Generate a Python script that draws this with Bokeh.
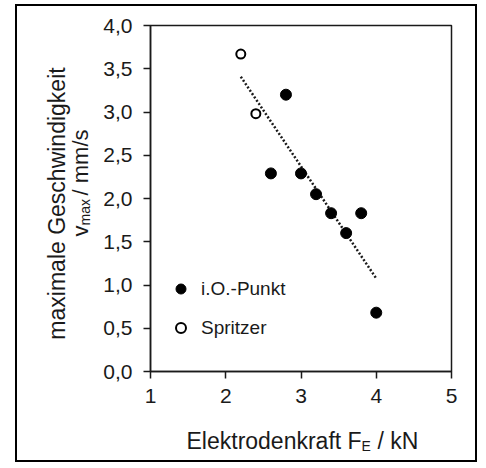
import numpy as np
from bokeh.plotting import figure
from bokeh.models import (Label, Legend, LegendItem, FixedTicker, CustomJSTickFormatter,
                          Range1d)
from bokeh.embed import file_html
from bokeh.resources import INLINE

# ---- data ----
x_io = [2.6, 2.8, 3.0, 3.2, 3.4, 3.6, 3.8, 4.0]
y_io = [2.29, 3.20, 2.29, 2.05, 1.83, 1.60, 1.83, 0.68]
x_spr = [2.2, 2.4]
y_spr = [3.67, 2.98]
x_ticks = [1, 2, 3, 4, 5]
y_ticks = [0.0, 0.5, 1.0, 1.5, 2.0, 2.5, 3.0, 3.5, 4.0]
legend_labels = ["i.O.-Punkt", "Spritzer"]

# regression line over all points
x_all = np.array(x_io + x_spr)
y_all = np.array(y_io + y_spr)
slope, icpt = np.polyfit(x_all, y_all, 1)
x_fit = [x_all.min(), x_all.max()]
y_fit = [slope * v + icpt for v in x_fit]

FONT = "Liberation Sans"
INK = "#1a1a1a"
OX, OY = 17, 6          # canvas origin on the page (inside the 2px frame)
W, H = 462, 458         # canvas size

p = figure(width=W, height=H, x_range=Range1d(1, 5), y_range=Range1d(0, 4),
           output_backend="svg", toolbar_location=None, margin=(4, 0, 0, 15),
           styles={"border": "2px solid black"},
           min_border_left=150 - OX, min_border_right=OX + W - 451,
           min_border_top=25 - OY, min_border_bottom=OY + H - 371)
p.background_fill_color = "white"
p.border_fill_color = "white"
p.xgrid.visible = False
p.ygrid.visible = False
p.outline_line_color = INK
p.outline_line_width = 1.5

for ax in (p.xaxis[0], p.yaxis[0]):
    ax.axis_line_color = INK
    ax.axis_line_width = 1.5
    ax.major_tick_line_color = INK
    ax.major_tick_line_width = 1.5
    ax.major_tick_out = 7
    ax.major_tick_in = 0
    ax.minor_tick_line_color = None
    ax.major_label_text_font = FONT
    ax.major_label_text_font_size = "21px"
    ax.major_label_text_color = INK

p.xaxis.ticker = FixedTicker(ticks=x_ticks)
p.yaxis.ticker = FixedTicker(ticks=y_ticks)
p.xaxis.formatter = CustomJSTickFormatter(code="return tick.toFixed(0);")
p.yaxis.formatter = CustomJSTickFormatter(code="return tick.toFixed(1).replace('.', ',');")
p.xaxis.major_label_standoff = 10
p.yaxis.major_label_standoff = 11

p.line(x_fit, y_fit, line_color=INK, line_width=2.5, line_dash="2 2")
r_io = p.scatter(x_io, y_io, size=11, fill_color="black", line_color="black")
r_spr = p.scatter(x_spr, y_spr, size=9, fill_color="white", line_color="black", line_width=2)

legend = Legend(items=[LegendItem(label=legend_labels[0], renderers=[r_io]),
                       LegendItem(label=legend_labels[1], renderers=[r_spr])],
                location=(18, 31), glyph_width=25, glyph_height=25, label_height=25,
                spacing=14, padding=0, margin=0, label_standoff=8,
                label_text_font=FONT, label_text_font_size="19px", label_text_color=INK,
                border_line_alpha=0, background_fill_alpha=0)
p.add_layout(legend)


def lab(text, x, y, size, side, angle=0.0, align="left"):
    # x, y are page coordinates; labels live in side panels so they are not clipped
    p.add_layout(Label(x=x - OX, y=y - OY, x_units="canvas", y_units="canvas", text=text,
                       angle=angle, text_font=FONT, text_font_size=size, text_color=INK,
                       text_align=align, text_baseline="alphabetic", text_line_height=1.0), side)


# x title: Elektrodenkraft F_E / kN
lab("Elektrodenkraft F", 184, 438, "23px", "below")
lab("E", 359, 443, "14px", "above")
lab("/ kN", 375, 438, "23px", "below")
# y title: maximale Geschwindigkeit / v_max / mm/s
lab("maximale Geschwindigkeit", 54, 201, "23px", "left", np.pi / 2, "center")
lab("v", 78, 234, "22px", "left", np.pi / 2)
lab("max", 82, 223, "14px", "right", np.pi / 2)
lab("/ mm/s", 78, 193, "22px", "left", np.pi / 2)

open("out.html", "w").write(file_html(p, INLINE))
